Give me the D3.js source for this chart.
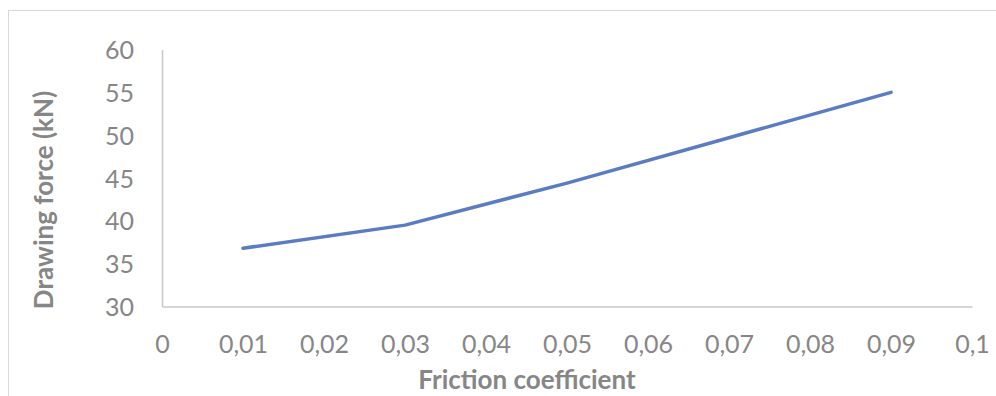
<!DOCTYPE html>
<html>
<head>
<meta charset="utf-8">
<script src="https://cdn.jsdelivr.net/npm/d3@7"></script>
<style>
  html, body { margin: 0; padding: 0; background: #fff; }
  svg { display: block; }
</style>
</head>
<body>
<svg id="chart" width="996" height="396"></svg>
<script>
// ---- data ----
const friction = [0.01, 0.03, 0.05, 0.07, 0.09];
const force = [36.8, 39.5, 44.4, 49.7, 55.0];
const xTicks = [0, 0.01, 0.02, 0.03, 0.04, 0.05, 0.06, 0.07, 0.08, 0.09, 0.1];
const yTicks = [30, 35, 40, 45, 50, 55, 60];
const xTitle = "Friction coefficient";
const yTitle = "Drawing force (kN)";

const svg = d3.select("#chart");
const font = "Lato, 'Open Sans', sans-serif";
const gray = "#868686";

// chart frame
svg.append("rect").attr("x", 8.5).attr("y", 10.5).attr("width", 1000).attr("height", 400)
  .attr("fill", "#fff").attr("stroke", "#d9d9d9").attr("stroke-width", 1);

const x = d3.scaleLinear().domain([0, 0.1]).range([162, 972]);
const y = d3.scaleLinear().domain([30, 60]).range([306.5, 49.5]);

const fmtX = d => d === 0 ? "0" : String(d).replace(".", ",");

// y axis
const yAxis = svg.append("g").attr("transform", "translate(162,0)")
  .call(d3.axisLeft(y).tickValues(yTicks).tickSize(0).tickPadding(28).tickFormat(d3.format("d")));
yAxis.select(".domain").attr("stroke", "#c8c8c8").attr("stroke-width", 1.5);
yAxis.selectAll("text").attr("fill", gray).attr("font-family", font).attr("font-size", 25)
  .attr("dy", "0.36em");

// x axis
const xAxis = svg.append("g").attr("transform", "translate(0,306.5)")
  .call(d3.axisBottom(x).tickValues(xTicks).tickSize(0).tickPadding(29).tickFormat(fmtX));
xAxis.select(".domain").attr("stroke", "#c8c8c8").attr("stroke-width", 1.5);
xAxis.selectAll("text").attr("fill", gray).attr("font-family", font).attr("font-size", 25);

// line
const data = friction.map((f, i) => ({ f, v: force[i] }));
svg.append("path").datum(data)
  .attr("fill", "none").attr("stroke", "#5b7cc2").attr("stroke-width", 3.5)
  .attr("stroke-linecap", "round").attr("stroke-linejoin", "round")
  .attr("d", d3.line().x(d => x(d.f)).y(d => y(d.v)));

// titles
svg.append("text").attr("x", 527).attr("y", 389).attr("text-anchor", "middle")
  .attr("font-family", font).attr("font-weight", "bold").attr("font-size", 26)
  .attr("fill", gray).text(xTitle);
svg.append("text").attr("transform", "translate(53,200) rotate(-90)").attr("text-anchor", "middle")
  .attr("font-family", font).attr("font-weight", "bold").attr("font-size", 26)
  .attr("fill", gray).text(yTitle);
</script>
</body>
</html>
